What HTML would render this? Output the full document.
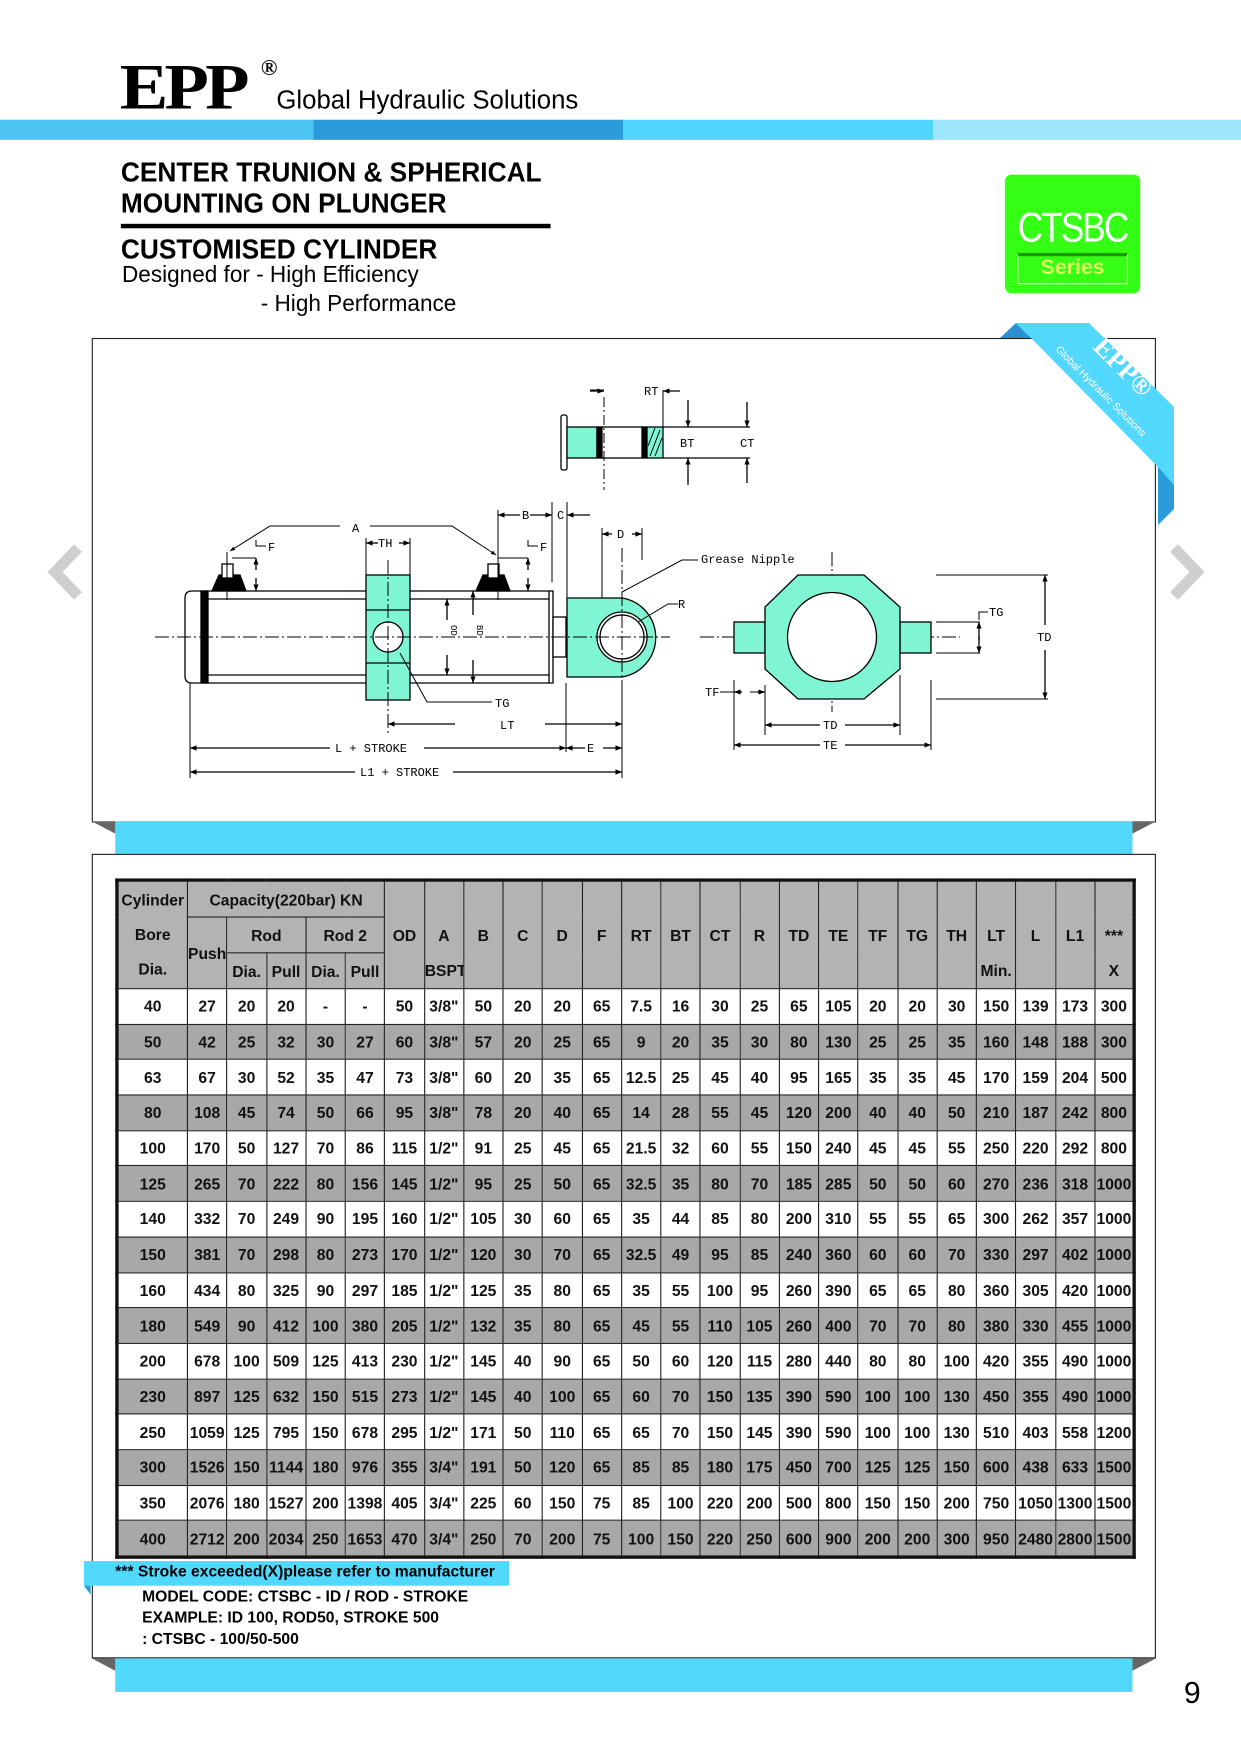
<!DOCTYPE html>
<html><head><meta charset="utf-8"><style>
html,body{margin:0;padding:0;background:#fff;}
body{width:1241px;height:1754px;position:relative;overflow:hidden;font-family:"Liberation Sans",sans-serif;}
#w{position:absolute;left:0;top:0;width:1109px;height:1567px;transform:scale(1.11903);transform-origin:0 0;}
.a{position:absolute;white-space:nowrap;}
.n{font-family:"Liberation Sans Narrow","Liberation Sans",sans-serif;}
table{position:absolute;left:103px;top:785px;border-collapse:collapse;table-layout:fixed;width:909px;border:3px solid #111;}
td{border:1px solid #222;text-align:center;padding:0;font-family:"Liberation Sans Narrow","Liberation Sans",sans-serif;font-weight:bold;font-size:14px;color:#111;overflow:hidden;white-space:nowrap;}
tr.h td{background:#b3b3b3;height:31px;}
tr.d td{height:30.7px;}
tr.g td{background:#a8a8a8;}
tr.wt td{background:#fff;}
</style></head><body>
<div id="w">
 <div class="a" style="left:107px;top:50px;font-family:'Liberation Serif',serif;font-weight:bold;font-size:58px;line-height:56px;letter-spacing:-3px;transform:scaleX(1.12);transform-origin:0 0;">EPP</div>
 <div class="a" style="left:233px;top:50px;font-family:'Liberation Serif',serif;font-weight:bold;font-size:20px;">®</div>
 <div class="a n" style="left:247px;top:76px;font-size:23px;">Global Hydraulic Solutions</div>
 <div class="a" style="left:0;top:107px;width:280px;height:18px;background:#4cc5f2"></div>
 <div class="a" style="left:280px;top:107px;width:277px;height:18px;background:#2b9bd9"></div>
 <div class="a" style="left:557px;top:107px;width:277px;height:18px;background:#50d6fc"></div>
 <div class="a" style="left:834px;top:107px;width:275px;height:18px;background:#9fe5fb"></div>

 <div class="a n" style="left:108px;top:140px;font-size:25px;font-weight:bold;line-height:28px;transform:scaleX(0.94);transform-origin:0 0;">CENTER TRUNION &amp; SPHERICAL<br>MOUNTING ON PLUNGER</div>
 <div class="a" style="left:108px;top:200px;width:384px;height:4px;background:#000"></div>
 <div class="a n" style="left:108px;top:209px;font-size:25px;font-weight:bold;transform:scaleX(0.94);transform-origin:0 0;">CUSTOMISED CYLINDER</div>
 <div class="a n" style="left:109px;top:234px;font-size:21px;transform:scaleX(0.96);transform-origin:0 0;">Designed for - High Efficiency</div>
 <div class="a n" style="left:233px;top:260px;font-size:21px;transform:scaleX(0.96);transform-origin:0 0;">- High Performance</div>

 <div class="a" style="left:898px;top:156px;width:121px;height:106px;background:#35ff14;border-radius:6px;"></div>
 <div class="a n" style="left:898px;top:183px;width:121px;text-align:center;font-size:37px;color:#fff;letter-spacing:-2px;transform:scaleX(0.85);transform-origin:60px 0;">CTSBC</div>
 <div class="a n" style="left:909px;top:226px;width:97px;height:24px;border:1px solid #fff;border-top:3px solid #1d9a00;color:#d8ff60;font-weight:bold;font-size:19px;text-align:center;line-height:22px;">Series</div>

 <div class="a" style="left:82px;top:302px;width:949px;height:431px;border:1px solid #222;"></div>
 <div class="a" style="left:103px;top:734px;width:909px;height:29px;background:#52d8fd"></div>
 <div class="a" style="left:82px;top:734px;width:0;height:0;border-top:11px solid #666;border-left:21px solid transparent;"></div>
 <div class="a" style="left:1012px;top:734px;width:0;height:0;border-top:11px solid #666;border-right:21px solid transparent;"></div>

 <div class="a" style="left:82px;top:763px;width:949px;height:717px;border:1px solid #222;"></div>
 <div class="a" style="left:103px;top:1482px;width:909px;height:30px;background:#52d8fd"></div>
 <div class="a" style="left:82px;top:1482px;width:0;height:0;border-top:11px solid #666;border-left:21px solid transparent;"></div>
 <div class="a" style="left:1012px;top:1482px;width:0;height:0;border-top:11px solid #666;border-right:21px solid transparent;"></div>

 <table>
  <colgroup><col style="width:63px"><col span="24" style="width:35.25px"></colgroup>
  <tr class="h"><td rowspan="3" style="line-height:31px;">Cylinder<br>Bore<br>Dia.</td><td colspan="5">Capacity(220bar) KN</td>
   <td rowspan="3">OD</td><td rowspan="3" style="vertical-align:bottom;line-height:31px">A<br>BSPT</td><td rowspan="3">B</td><td rowspan="3">C</td><td rowspan="3">D</td><td rowspan="3">F</td><td rowspan="3">RT</td><td rowspan="3">BT</td><td rowspan="3">CT</td><td rowspan="3">R</td><td rowspan="3">TD</td><td rowspan="3">TE</td><td rowspan="3">TF</td><td rowspan="3">TG</td><td rowspan="3">TH</td><td rowspan="3" style="vertical-align:bottom;line-height:31px">LT<br>Min.</td><td rowspan="3">L</td><td rowspan="3">L1</td><td rowspan="3" style="vertical-align:bottom;line-height:31px">***<br>X</td></tr>
  <tr class="h"><td rowspan="2">Push</td><td colspan="2">Rod</td><td colspan="2">Rod 2</td></tr>
  <tr class="h"><td>Dia.</td><td>Pull</td><td>Dia.</td><td>Pull</td></tr>
  <tr class="d wt"><td>40</td><td>27</td><td>20</td><td>20</td><td>-</td><td>-</td><td>50</td><td>3/8"</td><td>50</td><td>20</td><td>20</td><td>65</td><td>7.5</td><td>16</td><td>30</td><td>25</td><td>65</td><td>105</td><td>20</td><td>20</td><td>30</td><td>150</td><td>139</td><td>173</td><td>300</td></tr>
  <tr class="d g"><td>50</td><td>42</td><td>25</td><td>32</td><td>30</td><td>27</td><td>60</td><td>3/8"</td><td>57</td><td>20</td><td>25</td><td>65</td><td>9</td><td>20</td><td>35</td><td>30</td><td>80</td><td>130</td><td>25</td><td>25</td><td>35</td><td>160</td><td>148</td><td>188</td><td>300</td></tr>
  <tr class="d wt"><td>63</td><td>67</td><td>30</td><td>52</td><td>35</td><td>47</td><td>73</td><td>3/8"</td><td>60</td><td>20</td><td>35</td><td>65</td><td>12.5</td><td>25</td><td>45</td><td>40</td><td>95</td><td>165</td><td>35</td><td>35</td><td>45</td><td>170</td><td>159</td><td>204</td><td>500</td></tr>
  <tr class="d g"><td>80</td><td>108</td><td>45</td><td>74</td><td>50</td><td>66</td><td>95</td><td>3/8"</td><td>78</td><td>20</td><td>40</td><td>65</td><td>14</td><td>28</td><td>55</td><td>45</td><td>120</td><td>200</td><td>40</td><td>40</td><td>50</td><td>210</td><td>187</td><td>242</td><td>800</td></tr>
  <tr class="d wt"><td>100</td><td>170</td><td>50</td><td>127</td><td>70</td><td>86</td><td>115</td><td>1/2"</td><td>91</td><td>25</td><td>45</td><td>65</td><td>21.5</td><td>32</td><td>60</td><td>55</td><td>150</td><td>240</td><td>45</td><td>45</td><td>55</td><td>250</td><td>220</td><td>292</td><td>800</td></tr>
  <tr class="d g"><td>125</td><td>265</td><td>70</td><td>222</td><td>80</td><td>156</td><td>145</td><td>1/2"</td><td>95</td><td>25</td><td>50</td><td>65</td><td>32.5</td><td>35</td><td>80</td><td>70</td><td>185</td><td>285</td><td>50</td><td>50</td><td>60</td><td>270</td><td>236</td><td>318</td><td>1000</td></tr>
  <tr class="d wt"><td>140</td><td>332</td><td>70</td><td>249</td><td>90</td><td>195</td><td>160</td><td>1/2"</td><td>105</td><td>30</td><td>60</td><td>65</td><td>35</td><td>44</td><td>85</td><td>80</td><td>200</td><td>310</td><td>55</td><td>55</td><td>65</td><td>300</td><td>262</td><td>357</td><td>1000</td></tr>
  <tr class="d g"><td>150</td><td>381</td><td>70</td><td>298</td><td>80</td><td>273</td><td>170</td><td>1/2"</td><td>120</td><td>30</td><td>70</td><td>65</td><td>32.5</td><td>49</td><td>95</td><td>85</td><td>240</td><td>360</td><td>60</td><td>60</td><td>70</td><td>330</td><td>297</td><td>402</td><td>1000</td></tr>
  <tr class="d wt"><td>160</td><td>434</td><td>80</td><td>325</td><td>90</td><td>297</td><td>185</td><td>1/2"</td><td>125</td><td>35</td><td>80</td><td>65</td><td>35</td><td>55</td><td>100</td><td>95</td><td>260</td><td>390</td><td>65</td><td>65</td><td>80</td><td>360</td><td>305</td><td>420</td><td>1000</td></tr>
  <tr class="d g"><td>180</td><td>549</td><td>90</td><td>412</td><td>100</td><td>380</td><td>205</td><td>1/2"</td><td>132</td><td>35</td><td>80</td><td>65</td><td>45</td><td>55</td><td>110</td><td>105</td><td>260</td><td>400</td><td>70</td><td>70</td><td>80</td><td>380</td><td>330</td><td>455</td><td>1000</td></tr>
  <tr class="d wt"><td>200</td><td>678</td><td>100</td><td>509</td><td>125</td><td>413</td><td>230</td><td>1/2"</td><td>145</td><td>40</td><td>90</td><td>65</td><td>50</td><td>60</td><td>120</td><td>115</td><td>280</td><td>440</td><td>80</td><td>80</td><td>100</td><td>420</td><td>355</td><td>490</td><td>1000</td></tr>
  <tr class="d g"><td>230</td><td>897</td><td>125</td><td>632</td><td>150</td><td>515</td><td>273</td><td>1/2"</td><td>145</td><td>40</td><td>100</td><td>65</td><td>60</td><td>70</td><td>150</td><td>135</td><td>390</td><td>590</td><td>100</td><td>100</td><td>130</td><td>450</td><td>355</td><td>490</td><td>1000</td></tr>
  <tr class="d wt"><td>250</td><td>1059</td><td>125</td><td>795</td><td>150</td><td>678</td><td>295</td><td>1/2"</td><td>171</td><td>50</td><td>110</td><td>65</td><td>65</td><td>70</td><td>150</td><td>145</td><td>390</td><td>590</td><td>100</td><td>100</td><td>130</td><td>510</td><td>403</td><td>558</td><td>1200</td></tr>
  <tr class="d g"><td>300</td><td>1526</td><td>150</td><td>1144</td><td>180</td><td>976</td><td>355</td><td>3/4"</td><td>191</td><td>50</td><td>120</td><td>65</td><td>85</td><td>85</td><td>180</td><td>175</td><td>450</td><td>700</td><td>125</td><td>125</td><td>150</td><td>600</td><td>438</td><td>633</td><td>1500</td></tr>
  <tr class="d wt"><td>350</td><td>2076</td><td>180</td><td>1527</td><td>200</td><td>1398</td><td>405</td><td>3/4"</td><td>225</td><td>60</td><td>150</td><td>75</td><td>85</td><td>100</td><td>220</td><td>200</td><td>500</td><td>800</td><td>150</td><td>150</td><td>200</td><td>750</td><td>1050</td><td>1300</td><td>1500</td></tr>
  <tr class="d g"><td>400</td><td>2712</td><td>200</td><td>2034</td><td>250</td><td>1653</td><td>470</td><td>3/4"</td><td>250</td><td>70</td><td>200</td><td>75</td><td>100</td><td>150</td><td>220</td><td>250</td><td>600</td><td>900</td><td>200</td><td>200</td><td>300</td><td>950</td><td>2480</td><td>2800</td><td>1500</td></tr>
 </table>

 <div class="a" style="left:75px;top:1395px;width:380px;height:22px;background:#52d8fd"></div>
 <div class="a" style="left:75px;top:1417px;width:0;height:0;border-top:8px solid #2b9bd9;border-left:6px solid transparent;"></div>
 <div class="a n" style="left:103px;top:1396px;font-size:14px;font-weight:bold;">*** Stroke exceeded(X)please refer to manufacturer</div>
 <div class="a n" style="left:127px;top:1417px;font-size:14px;font-weight:bold;line-height:19px;">MODEL CODE: CTSBC - ID / ROD - STROKE<br>EXAMPLE: ID 100, ROD50, STROKE 500<br>: CTSBC - 100/50-500</div>
 <div class="a" style="left:1058px;top:1498px;font-size:27px;">9</div>
</div>

<svg width="1241" height="1754" viewBox="0 0 1241 1754" style="position:absolute;left:0;top:0" font-family="Liberation Mono, monospace" font-size="12">
 <defs>
  <marker id="ar" viewBox="0 0 10 10" refX="10" refY="5" markerWidth="7" markerHeight="5" orient="auto-start-reverse"><path d="M0,1L10,5L0,9z" fill="#000"/></marker>
 </defs>
 <polyline points="78,548 55,572 78,596" fill="none" stroke="#cfcfcf" stroke-width="11"/>
 <polyline points="1174,548 1197,572 1174,596" fill="none" stroke="#cfcfcf" stroke-width="11"/>
 <polygon points="1000,338 1016,323 1031,338" fill="#2b8fd0"/>
 <polygon points="1016,323 1089,323 1174,407 1174,485 1158,469 1158,467 1031,338" fill="#52d8fd"/>
 <polygon points="1158,467 1174,485 1174,509 1158,525" fill="#2b9bd9"/>
 <text x="0" y="0" transform="translate(1092,348) rotate(45)" fill="#fff" font-family="Liberation Serif,serif" font-weight="bold" font-size="27">EPP®</text>
 <text x="0" y="0" transform="translate(1055,350) rotate(45)" fill="#fff" font-family="Liberation Sans,sans-serif" font-size="10.5">Global Hydraulic Solutions</text>

 <g stroke="#000" stroke-width="1.3" fill="none">
 <rect x="561" y="415" width="6" height="55" rx="2" fill="#fff"/>
 <rect x="567" y="427" width="30" height="31" fill="#80f5d3"/>
 <rect x="597" y="427" width="5" height="31" fill="#000"/>
 <rect x="602" y="427" width="41" height="31" fill="#fff"/>
 <rect x="642" y="427" width="5" height="31" fill="#000"/>
 <rect x="647" y="427" width="16" height="31" fill="#80f5d3"/>
 <path d="M650,456L660,430M655,456L662,438M648,446L655,428" stroke-width="1"/>
 <path d="M663,427H750M663,458H750"/>
 <path d="M604,397V490" stroke-dasharray="10,3,2,3" stroke-width="1"/>
 <path d="M663,390V430M604,390H590" stroke-width="1"/>
 <path d="M590,391H604" marker-end="url(#ar)"/>
 <path d="M680,391H663" marker-end="url(#ar)"/>
 <path d="M688,400V427" marker-end="url(#ar)"/><path d="M688,485V458" marker-end="url(#ar)"/>
 <path d="M747,402V427" marker-end="url(#ar)"/><path d="M747,483V458" marker-end="url(#ar)"/>

 <path d="M192,591H553V683H192Q185,683 185,676V598Q185,591 192,591Z" fill="#fff"/>
 <path d="M205,599H549M205,675H549M549,591V683"/>
 <rect x="201" y="591" width="7" height="92" fill="#000"/>
 <rect x="553" y="617" width="13" height="40" fill="#fff"/>
 <path d="M212,591L219,575H240L246,591Z" fill="#000"/>
 <rect x="222" y="564" width="11" height="14" fill="#fff"/>
 <path d="M227,552V600" stroke-width="1"/>
 <path d="M476,591L483,575H504L510,591Z" fill="#000"/>
 <rect x="488" y="564" width="11" height="14" fill="#fff"/>
 <path d="M498,510V600" stroke-width="1"/>
 <rect x="366" y="575" width="44" height="125" fill="#80f5d3"/>
 <path d="M366,610H410M366,663H410"/>
 <circle cx="388" cy="637" r="15" fill="#fff"/>
 <path d="M567,598H622A40,40 0 0 1 622,677H567Z" fill="#80f5d3"/>
 <circle cx="622" cy="637" r="25" fill="#fff"/><circle cx="622" cy="637" r="22"/>
 <g stroke-width="1" stroke-dasharray="14,3,2,3"><path d="M155,637H670M388,560V735M622,548V690"/>
 <path d="M700,637H960M832,552V712"/></g>
 <path d="M340,526H270L230,551" marker-end="url(#ar)" stroke-width="1"/>
 <path d="M370,526H452L496,555" marker-end="url(#ar)" stroke-width="1"/>
 <path d="M232,558H256M256,540V546H266M498,558H528M528,540V546H538" stroke-width="1"/>
 <path d="M256,570V558" marker-end="url(#ar)"/><path d="M256,578V591" marker-end="url(#ar)"/>
 <path d="M528,570V558" marker-end="url(#ar)"/><path d="M528,578V591" marker-end="url(#ar)"/>
 <path d="M366,538V575M410,538V575" stroke-width="1"/>
 <path d="M378,543H366" marker-end="url(#ar)"/><path d="M399,543H410" marker-end="url(#ar)"/>
 <path d="M552,502V582M567,502V598M602,528V598M642,528V560" stroke-width="1"/>
 <path d="M520,515H498" marker-end="url(#ar)"/><path d="M530,515H552" marker-end="url(#ar)"/>
 <path d="M590,515H567" marker-end="url(#ar)"/>
 <path d="M612,534H602" marker-end="url(#ar)"/><path d="M632,534H642" marker-end="url(#ar)"/>
 <path d="M447,620V599" marker-end="url(#ar)"/><path d="M447,655V675" marker-end="url(#ar)"/>
 <path d="M473,615V591" marker-end="url(#ar)"/><path d="M473,660V683" marker-end="url(#ar)"/>
 <path d="M400,653L427,702H492" stroke-width="1"/>
 <path d="M190,683V778M566,683V752M622,690V778" stroke-width="1"/>
 <path d="M455,724H388" marker-end="url(#ar)"/><path d="M545,724H622" marker-end="url(#ar)"/>
 <path d="M330,748H190" marker-end="url(#ar)"/><path d="M424,748H566" marker-end="url(#ar)"/>
 <path d="M585,748H566" marker-end="url(#ar)"/><path d="M603,748H622" marker-end="url(#ar)"/>
 <path d="M355,772H190" marker-end="url(#ar)"/><path d="M453,772H622" marker-end="url(#ar)"/>
 <path d="M622,592L682,560H698M638,622L668,604H678" stroke-width="1"/>
 <rect x="734" y="622" width="31" height="31" fill="#80f5d3"/>
 <rect x="900" y="622" width="31" height="31" fill="#80f5d3"/>
 <polygon points="798,575 864,575 900,607 900,669 864,699 798,699 765,669 765,607" fill="#80f5d3"/>
 <circle cx="832" cy="637" r="44.5" fill="#fff"/>
 <path d="M936,622H980M936,653H980M936,575H1048M936,699H1048" stroke-width="1"/>
 <path d="M979,640V622" marker-end="url(#ar)"/><path d="M979,636V653" marker-end="url(#ar)"/>
 <path d="M979,620V612H988" stroke-width="1"/>
 <path d="M1045,625V575" marker-end="url(#ar)"/><path d="M1045,650V699" marker-end="url(#ar)"/>
 <path d="M765,685V735M900,675V735M734,680V750M931,680V750" stroke-width="1"/>
 <path d="M820,725H765" marker-end="url(#ar)"/><path d="M845,725H900" marker-end="url(#ar)"/>
 <path d="M820,745H734" marker-end="url(#ar)"/><path d="M845,745H931" marker-end="url(#ar)"/>
 <path d="M720,692H734M765,692H750" stroke-width="1"/>
 <path d="M742,692H734" marker-end="url(#ar)"/><path d="M757,692H765" marker-end="url(#ar)"/>
 </g>
 <g fill="#000" font-size="12">
  <text x="644" y="395">RT</text><text x="680" y="447">BT</text><text x="740" y="447">CT</text>
  <text x="352" y="532">A</text><text x="378" y="547">TH</text>
  <text x="268" y="551">F</text><text x="540" y="551">F</text>
  <text x="522" y="519">B</text><text x="557" y="519">C</text><text x="617" y="538">D</text>
  <text x="495" y="707">TG</text><text x="500" y="729">LT</text>
  <text x="335" y="752">L + STROKE</text><text x="587" y="752">E</text>
  <text x="360" y="776">L1 + STROKE</text>
  <text x="701" y="563">Grease Nipple</text><text x="678" y="608">R</text>
  <text x="989" y="616">TG</text><text x="1037" y="641">TD</text>
  <text x="823" y="729">TD</text><text x="823" y="749">TE</text><text x="705" y="696">TF</text>
  <text transform="translate(451,625) rotate(90)" font-size="9">OD</text>
  <text transform="translate(477,625) rotate(90)" font-size="9">BD</text>
 </g>
</svg>
</body></html>
